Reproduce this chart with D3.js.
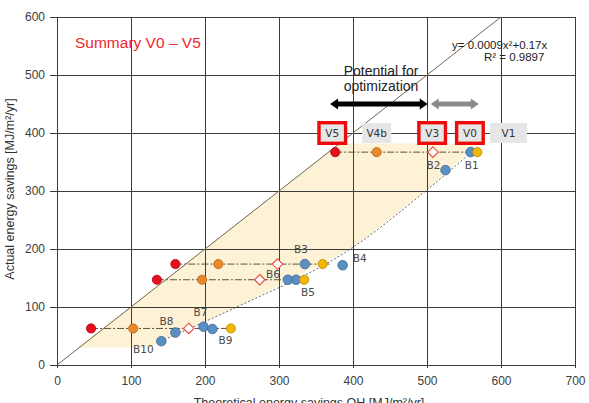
<!DOCTYPE html>
<html lang="en">
<head>
  <meta charset="UTF-8">
  <title>Summary V0 - V5</title>
  <script src="https://d3js.org/d3.v7.min.js"></script>
  <style>
    body { margin: 0; background: #fff; font-family: Arial, "Liberation Sans", sans-serif; }
    .grid line { stroke: #3c3c3c; stroke-width: 1.1; shape-rendering: crispEdges; }
    .grid path { display: none; }
    .axis path { display: none; }
    .axis line { stroke: #3c3c3c; shape-rendering: crispEdges; }
    .axis text { font-size: 12px; fill: #404040; font-family: Arial, "Liberation Sans", sans-serif; }
    .blabel { font-family: "DejaVu Sans", sans-serif; font-size: 10.5px; fill: #4a4a4a; }
    .vlabel { font-family: "DejaVu Sans", sans-serif; font-size: 10.5px; fill: #333; }
  </style>
</head>
<body>
<div id="chart"></div>
<script>
  // ---- data ----
  const xTicks = [0, 100, 200, 300, 400, 500, 600, 700];
  const yTicks = [0, 100, 200, 300, 400, 500, 600];

  // each row = one building group, x per variant at that row's y
  const rowY = [367, 174, 147, 63];
  const v5X  = [376, 160, 135, 46];
  const v4bX = [432, 218, 196, 103];
  const v3X  = [508, 298, 274, 178];
  const v1X  = [568, 359, 334, 235];
  const rowEnd = [571, 371, 336, 238];

  // V0 measured buildings
  const buildings = [
    { name: "B1", x: 559, y: 367 },
    { name: "B2", x: 525, y: 336 },
    { name: "B3", x: 335, y: 174 },
    { name: "B4", x: 386, y: 172 },
    { name: "B5", x: 323, y: 147 },
    { name: "B6", x: 312, y: 147 },
    { name: "B7", x: 198, y: 66 },
    { name: "B8", x: 160, y: 56 },
    { name: "B9", x: 210, y: 62 },
    { name: "B10", x: 141, y: 41 }
  ];

  // trend curve y = 0.0009x² + 0.17x
  const trendPts = [[140, 41], [243, 100], [400, 203], [500, 302], [560, 367]];
  // shaded band
  const bandPts = [[28, 30], [382, 382], [572, 382], [560, 371], [500, 302],
                   [400, 203], [243, 100], [140, 41], [126, 30]];
  const diagonal = [[0, 0], [600, 600]];

  const versions = [
    { name: "V5", x: 372, hi: true },
    { name: "V4b", x: 432, hi: false },
    { name: "V3", x: 507, hi: true },
    { name: "V0", x: 558, hi: true },
    { name: "V1", x: 610, hi: false }
  ];
  const versionY = 400;
  const arrows = [[369, 501], [505, 570]];

  // ---- layout ----
  const margin = { top: 17, right: 14, bottom: 38, left: 57 };
  const width = 589 - margin.left - margin.right;
  const height = 403 - margin.top - margin.bottom;

  const x = d3.scaleLinear().domain([0, 700]).range([0, width]);
  const y = d3.scaleLinear().domain([0, 600]).range([height, 0]);

  const svg = d3.select("#chart").append("svg")
    .attr("width", 589)
    .attr("height", 403)
    .append("g")
    .attr("transform", `translate(${margin.left},${margin.top})`);

  const line = d3.line().x(d => x(d[0])).y(d => y(d[1]));

  // shaded band
  svg.append("path")
    .attr("d", line(bandPts) + "Z")
    .attr("fill", "#fdf1d6");

  // gridlines
  svg.append("g")
    .attr("class", "grid")
    .call(d3.axisLeft(y).tickValues(yTicks).tickSize(-width).tickFormat(""));
  svg.append("g")
    .attr("class", "grid")
    .attr("transform", `translate(0,${height})`)
    .call(d3.axisBottom(x).tickValues(xTicks).tickSize(-height).tickFormat(""));

  // axes with outer ticks and labels
  svg.append("g")
    .attr("class", "axis")
    .call(d3.axisLeft(y).tickValues(yTicks).tickSize(7).tickPadding(5));
  svg.append("g")
    .attr("class", "axis")
    .attr("transform", `translate(0,${height})`)
    .call(d3.axisBottom(x).tickValues(xTicks).tickSize(3).tickPadding(8.5));

  // axis titles (the x title is clipped by the bottom edge, as in the source)
  svg.append("text")
    .attr("x", width / 2 - 7)
    .attr("y", height + 42)
    .attr("text-anchor", "middle")
    .style("font-size", "12.5px")
    .attr("fill", "#333")
    .text("Theoretical energy savings QH [MJ/m²/yr]");

  svg.append("text")
    .attr("transform", "rotate(-90)")
    .attr("x", -(height / 2) + 2)
    .attr("y", -43)
    .attr("text-anchor", "middle")
    .style("font-size", "12.5px")
    .attr("fill", "#333")
    .text("Actual energy savings [MJ/m²/yr]");

  // 1:1 line
  svg.append("path")
    .attr("d", line(diagonal))
    .attr("stroke", "#6e6650")
    .attr("stroke-width", 1)
    .attr("fill", "none");

  // trend curve
  svg.append("path")
    .attr("d", d3.line().x(d => x(d[0])).y(d => y(d[1])).curve(d3.curveMonotoneX)(trendPts))
    .attr("stroke", "#666")
    .attr("stroke-width", 1)
    .attr("stroke-dasharray", "2,2")
    .attr("fill", "none");

  // dash-dot row connectors
  svg.selectAll(".row")
    .data(rowY)
    .enter()
    .append("line")
    .attr("x1", (d, i) => x(v5X[i]))
    .attr("x2", (d, i) => x(rowEnd[i]))
    .attr("y1", d => y(d))
    .attr("y2", d => y(d))
    .attr("stroke", "#5a5444")
    .attr("stroke-width", 1)
    .attr("stroke-dasharray", "7,2,2,2");

  function dots(xs, fill, stroke) {
    svg.append("g").selectAll("circle")
      .data(xs)
      .enter()
      .append("circle")
      .attr("cx", d => x(d))
      .attr("cy", (d, i) => y(rowY[i]))
      .attr("r", 4.6)
      .attr("fill", fill)
      .attr("stroke", stroke)
      .attr("stroke-width", 0.8);
  }
  dots(v5X, "#e5101a", "#b00010");
  dots(v4bX, "#e8892b", "#b5661a");

  // V3 open diamonds
  svg.append("g").selectAll("path")
    .data(v3X)
    .enter()
    .append("path")
    .attr("d", d3.symbol(d3.symbolDiamond2, 70))
    .attr("transform", (d, i) => `translate(${x(d)},${y(rowY[i])})`)
    .attr("fill", "#fff")
    .attr("stroke", "#ea4a40")
    .attr("stroke-width", 1.1);

  // buildings (blue) before yellow so yellow sits on top like the picture
  svg.append("g").selectAll("circle")
    .data(buildings)
    .enter()
    .append("circle")
    .attr("cx", d => x(d.x))
    .attr("cy", d => y(d.y))
    .attr("r", 4.8)
    .attr("fill", "#5a8fc4")
    .attr("stroke", "#3d6a94")
    .attr("stroke-width", 0.8);

  dots(v1X, "#f2b705", "#b88a00");

  // building labels
  const labelOffset = {
    B1: [1, 17], B2: [-12, -1], B3: [-4, -11], B4: [17, -3], B5: [12, 16],
    B6: [-15, -2], B7: [-3, -11], B8: [-9, -8], B9: [13, 15], B10: [-18, 12]
  };
  svg.selectAll(".blabel")
    .data(buildings)
    .enter()
    .append("text")
    .attr("class", "blabel")
    .attr("x", d => x(d.x) + labelOffset[d.name][0])
    .attr("y", d => y(d.y) + labelOffset[d.name][1])
    .attr("text-anchor", "middle")
    .text(d => d.name);

  // version boxes on the 400 gridline
  const vg = svg.append("g").selectAll("g")
    .data(versions)
    .enter()
    .append("g")
    .attr("transform", d => `translate(${x(d.x)},${y(versionY)})`);
  vg.append("rect")
    .attr("x", d => d.hi ? -13.3 : (d.name === "V1" ? -18.5 : -14.5))
    .attr("width", d => d.hi ? 26.6 : (d.name === "V1" ? 37 : 29))
    .attr("y", d => d.hi ? -10.3 : -10)
    .attr("height", d => d.hi ? 20.6 : 20)
    .attr("fill", "#e6e6e6")
    .attr("stroke", d => d.hi ? "#ee0a0a" : "none")
    .attr("stroke-width", 3.4);
  vg.append("text")
    .attr("class", "vlabel")
    .attr("text-anchor", "middle")
    .attr("dy", "0.36em")
    .text(d => d.name);

  // optimisation arrows
  function arrow(x1, x2, yy, half, head, len, color) {
    const a = x(x1), b = x(x2);
    const pts = [[a, yy], [a + len, yy - head], [a + len, yy - half], [b - len, yy - half],
                 [b - len, yy - head], [b, yy], [b - len, yy + head], [b - len, yy + half],
                 [a + len, yy + half], [a + len, yy + head]];
    svg.append("path")
      .attr("d", "M" + pts.join("L") + "Z")
      .attr("fill", color);
  }
  arrow(arrows[0][0], arrows[0][1], 87, 2.4, 5.5, 8, "#000");
  arrow(arrows[1][0], arrows[1][1], 87, 2.6, 5.5, 8, "#8a8a8a");

  // annotations
  svg.append("text")
    .attr("x", 18).attr("y", 30.5)
    .style("font-size", "15.5px")
    .attr("fill", "#f0282d")
    .text("Summary V0 – V5");

  svg.append("text")
    .attr("x", 324).attr("y", 58.5)
    .attr("text-anchor", "middle")
    .style("font-size", "14px")
    .attr("fill", "#222")
    .text("Potential for");
  svg.append("text")
    .attr("x", 324).attr("y", 74)
    .attr("text-anchor", "middle")
    .style("font-size", "14px")
    .attr("fill", "#222")
    .text("optimization");

  svg.append("text")
    .attr("x", 395).attr("y", 31.5)
    .style("font-size", "11.5px")
    .attr("fill", "#222")
    .text("y= 0.0009x²+0.17x");
  svg.append("text")
    .attr("x", 427).attr("y", 44)
    .style("font-size", "11.5px")
    .attr("fill", "#222")
    .text("R² = 0.9897");
</script>
</body>
</html>
